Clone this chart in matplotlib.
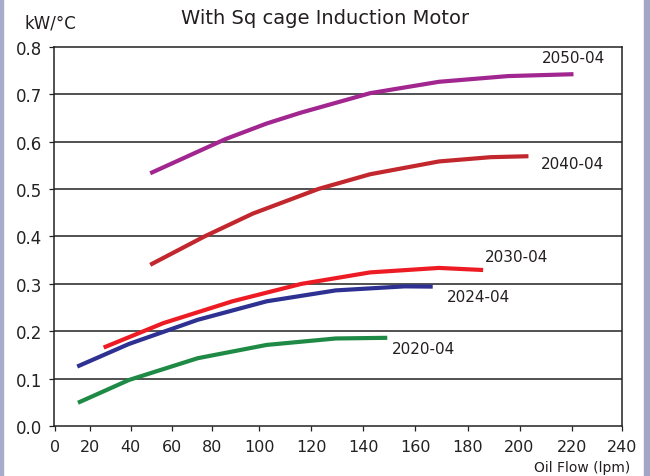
import matplotlib
matplotlib.use("Agg")
import matplotlib.pyplot as plt
import numpy as np

# x axis of the original is not evenly spaced: tick value -> pixel position
tick_vals = [0, 20, 40, 60, 80, 100, 120, 140, 160, 180, 200, 220, 240]
tick_px = [55, 90, 130.7, 171.7, 212.3, 259.3, 311, 363.3, 415, 467.3, 519.3, 571.7, 621.7]

# curves: (oil flow lpm, kW/degC)
x_2050 = [49.5, 64.3, 85.5, 102.8, 116.1, 142.6, 169.1, 195.5, 220.6]
y_2050 = [0.533, 0.562, 0.605, 0.638, 0.661, 0.702, 0.726, 0.738, 0.742]

x_2040 = [49.5, 76.2, 97.2, 122.8, 142.6, 169.1, 188.9, 203.4]
y_2040 = [0.340, 0.400, 0.448, 0.500, 0.531, 0.558, 0.567, 0.569]

x_2030 = [26.7, 55.9, 88.5, 116.1, 142.6, 169.1, 186]
y_2030 = [0.1655, 0.217, 0.263, 0.2996, 0.324, 0.3334, 0.329]

x_2024 = [12.7, 39.1, 72.8, 102.8, 129.4, 155.9, 166.7]
y_2024 = [0.1254, 0.173, 0.224, 0.263, 0.286, 0.2945, 0.294]

x_2020 = [13.1, 39.1, 72.8, 102.8, 129.4, 149.2]
y_2020 = [0.049, 0.097, 0.143, 0.171, 0.1846, 0.186]

series = [
    ("2050-04", x_2050, y_2050, "#a1268f", (208.7, 0.778)),
    ("2040-04", x_2040, y_2040, "#c1272d", (208.0, 0.554)),
    ("2030-04", x_2030, y_2030, "#ed1c24", (186.5, 0.357)),
    ("2024-04", x_2024, y_2024, "#2e3192", (172.1, 0.273)),
    ("2020-04", x_2020, y_2020, "#1f8a45", (151.0, 0.164)),
]

vals_ext = np.array([-100] + tick_vals + [340])
px_ext = np.array([55 - 175] + tick_px + [621.7 + 260])


def fwd(x):
    return np.interp(x, vals_ext, px_ext)


def inv(p):
    return np.interp(p, px_ext, vals_ext)


W, H = 650, 477
fig = plt.figure(figsize=(W / 100, H / 100), dpi=100)
ax = fig.add_axes([54 / W, (H - 427) / H, (622 - 54) / W, (427 - 47.7) / H])

ax.set_xscale("function", functions=(fwd, inv))
ax.set_xlim(inv(54), 240)
ax.set_ylim(0, 0.8)
ax.set_xticks(tick_vals)
ax.set_yticks(np.arange(0, 0.81, 0.1))
ax.set_yticklabels(["{:.1f}".format(v) for v in np.arange(0, 0.81, 0.1)])
ax.xaxis.set_minor_locator(matplotlib.ticker.NullLocator())

for y in np.arange(0.1, 0.8, 0.1):
    ax.axhline(y, color="#222222", lw=1.1, zorder=1)

for name, xs, ys, col, (lx, ly) in series:
    ax.plot(xs, ys, color=col, lw=3, solid_capstyle="butt",
            solid_joinstyle="round", zorder=3)
    ax.text(lx, ly, name, fontsize=11, color="#231f20", ha="left", va="center")

for s in ax.spines.values():
    s.set_color("#222222")
    s.set_linewidth(1.1)

ax.tick_params(axis="both", direction="out", length=3.5, width=0.9,
               colors="#222222", labelsize=11.5)
ax.tick_params(axis="y", pad=5, labelsize=12)
ax.tick_params(axis="x", pad=6)

fig.text(0.5, 1 - 18 / H, "With Sq cage Induction Motor", fontsize=14,
         ha="center", va="center", color="#231f20")
fig.text(24 / W, 1 - 23 / H, "kW/°C", fontsize=12, ha="left", va="center",
         color="#231f20")
fig.text(630 / W, 1 - 468 / H, "Oil Flow (lpm)", fontsize=10, ha="right",
         va="center", color="#231f20")

# lavender side strips of the original page
fig.patches.append(plt.Rectangle((0, 0), 2.5 / W, 1, transform=fig.transFigure,
                                 color="#a8accb", zorder=0))
fig.patches.append(plt.Rectangle((644 / W, 0), 6 / W, 1, transform=fig.transFigure,
                                 color="#a3a7c6", zorder=0))

fig.savefig("out.png", dpi=100)
